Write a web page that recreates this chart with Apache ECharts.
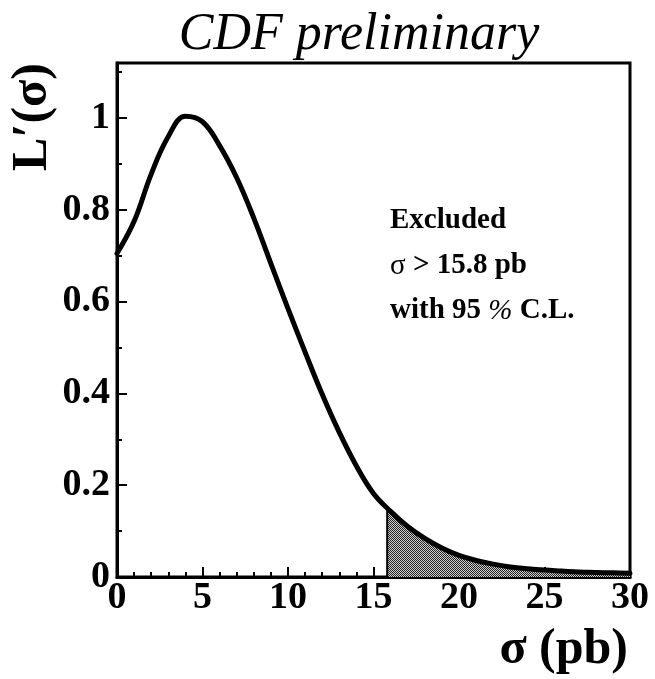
<!DOCTYPE html>
<html>
<head>
<meta charset="utf-8">
<script src="https://cdn.jsdelivr.net/npm/echarts@6/dist/echarts.min.js"></script>
<style>
html,body{margin:0;padding:0;background:#fff;}
#chart{width:655px;height:679px;}
</style>
</head>
<body>
<div id="chart"></div>
<script>
// ---- data ----
const sigma = [0, 1, 2, 3, 4, 5, 6, 7, 8, 9, 10, 11, 12, 13, 14, 15, 16, 17, 18, 19, 20, 21, 22, 23, 24, 25, 26, 27, 28, 29, 30];
const likelihood = [0.705, 0.775, 0.878, 0.960, 1.004, 0.992, 0.940, 0.870, 0.782, 0.683, 0.585, 0.490, 0.398, 0.315, 0.242, 0.182, 0.143, 0.110, 0.084, 0.063, 0.047, 0.036, 0.028, 0.022, 0.018, 0.015, 0.013, 0.011, 0.010, 0.009, 0.008];
const limit = 15.8;          // 95% C.L. upper limit (pb)
const limitValue = 0.150;    // L'(σ) at the limit
const xTicks = [0, 5, 10, 15, 20, 25, 30];
const yTicks = [0, 0.2, 0.4, 0.6, 0.8, 1];
const titleText = 'CDF preliminary';
const xTitle = 'σ (pb)';
const yTitle = 'L′(σ)';

// ---- build series ----
const curve = sigma.map((s, i) => [s, likelihood[i]]);
const shaded = [[limit, limitValue]].concat(curve.filter(p => p[0] > limit));
const edge = [[limit, 0], [limit, limitValue]];

// stipple pattern for excluded region
const pc = document.createElement('canvas');
pc.width = 2; pc.height = 2;
const g = pc.getContext('2d');
g.fillStyle = '#d0d0d0'; g.fillRect(0, 0, 2, 2);
g.fillStyle = '#222'; g.fillRect(0, 0, 1, 1); g.fillRect(1, 1, 1, 1);

const serif = 'Liberation Serif';
const labelStyle = {fontFamily: serif, fontWeight: 'bold', fontSize: 38, color: '#000'};
const black = '#000';

const chart = echarts.init(document.getElementById('chart'), null, {renderer: 'canvas'});
chart.setOption({
  animation: false,
  backgroundColor: '#fff',
  grid: {left: 117, right: 25, top: 63, bottom: 102, show: true, borderColor: black, borderWidth: 3, backgroundColor: 'transparent'},
  xAxis: {
    type: 'value', min: xTicks[0], max: xTicks[xTicks.length - 1], interval: xTicks[1] - xTicks[0],
    axisLine: {show: true, onZero: false, lineStyle: {color: black, width: 3}},
    axisTick: {show: true, inside: true, length: 10, lineStyle: {color: black, width: 2}},
    minorTick: {show: true, splitNumber: 5, length: 5, lineStyle: {color: black, width: 2}},
    splitLine: {show: false},
    axisLabel: Object.assign({margin: 2}, labelStyle)
  },
  yAxis: [
    {
      type: 'value', min: 0, max: 1.12, interval: yTicks[1] - yTicks[0], position: 'left',
      axisLine: {show: true, onZero: false, lineStyle: {color: black, width: 3}},
      axisTick: {show: true, inside: true, length: 10, lineStyle: {color: black, width: 2}},
      splitLine: {show: false},
      axisLabel: Object.assign({margin: 7, showMaxLabel: false}, labelStyle)
    },
    {
      type: 'value', min: 0, max: 1.12, interval: 0.1, position: 'left',
      axisLine: {show: false},
      axisTick: {show: true, inside: true, length: 5, lineStyle: {color: black, width: 2}},
      splitLine: {show: false},
      axisLabel: {show: false}
    }
  ],
  series: [
    {
      type: 'line', data: shaded, yAxisIndex: 0, showSymbol: false, smooth: 0.4,
      lineStyle: {width: 0}, areaStyle: {color: {image: pc, repeat: 'repeat'}, opacity: 1}, z: 2, silent: true
    },
    {
      type: 'line', data: edge, yAxisIndex: 0, showSymbol: false,
      lineStyle: {color: black, width: 2}, z: 3, silent: true
    },
    {
      type: 'line', data: curve, yAxisIndex: 0, showSymbol: false, smooth: 0.4,
      lineStyle: {color: black, width: 5, join: 'round', cap: 'round'}, z: 4, silent: true
    }
  ],
  graphic: [
    {type: 'text', x: 359, y: 35, style: {text: titleText, font: 'italic 52px "Liberation Serif"', fill: black, align: 'center', verticalAlign: 'middle'}},
    {type: 'text', x: 628, y: 650, style: {text: xTitle, font: 'bold 50px "Liberation Serif"', fill: black, align: 'right', verticalAlign: 'middle'}},
    {type: 'text', x: 33, y: 117, rotation: Math.PI / 2, style: {text: yTitle, font: 'bold 50px "Liberation Serif"', fill: black, align: 'center', verticalAlign: 'middle'}},
    {type: 'text', x: 390, y: 221, style: {text: 'Excluded', font: 'bold 29px "Liberation Serif"', fill: black, align: 'left', verticalAlign: 'middle'}},
    {type: 'text', x: 390, y: 266, style: {text: '{n|σ}{b| > 15.8 pb}', fill: black, align: 'left', verticalAlign: 'middle',
      rich: {n: {fontFamily: serif, fontSize: 29, fontWeight: 'normal'}, b: {fontFamily: serif, fontSize: 29, fontWeight: 'bold'}}}},
    {type: 'text', x: 390, y: 311, style: {text: '{b|with 95 }{n|%}{b| C.L.}', fill: black, align: 'left', verticalAlign: 'middle',
      rich: {n: {fontFamily: serif, fontSize: 29, fontWeight: 'normal', fontStyle: 'italic'}, b: {fontFamily: serif, fontSize: 29, fontWeight: 'bold'}}}}
  ]
});
</script>
</body>
</html>
